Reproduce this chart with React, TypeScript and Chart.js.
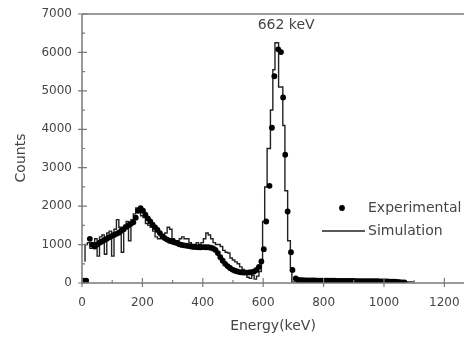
import React, { useEffect, useRef } from "react";
import { Chart, registerables } from "chart.js";

Chart.register(...registerables);

// Experimental spectrum (keV, counts)
const expEnergy = [
  5, 14, 26, 34, 42, 50, 58, 66, 74, 82, 90, 98, 106, 114, 122, 130, 138, 146, 154, 162,
  170, 178, 186, 194, 202, 210, 218, 226, 234, 242, 250, 258, 266, 274, 282, 290, 298, 306, 314, 322,
  330, 338, 346, 354, 362, 370, 378, 386, 394, 402, 410, 418, 426, 434, 442, 450, 458, 466, 474, 482,
  490, 498, 506, 514, 522, 530, 538, 546, 554, 562, 570, 578, 586, 594, 602, 610, 621, 629, 637, 650,
  659, 666, 673, 681, 692, 697, 708, 716, 724, 732, 740, 748, 756, 764, 772, 780, 788, 796, 804, 812,
  820, 828, 836, 844, 852, 860, 868, 876, 884, 892, 900, 908, 916, 924, 932, 940, 948, 956, 964, 972,
  980, 988, 996, 1004, 1012, 1020, 1028, 1036, 1044, 1052, 1060, 1068,
];
const expCounts = [
  60, 60, 1150, 1000, 950, 1000, 1050, 1080, 1120, 1150, 1190, 1220, 1250, 1280, 1310, 1360, 1400, 1460, 1500, 1540,
  1580, 1700, 1880, 1950, 1880, 1780, 1680, 1600, 1520, 1450, 1380, 1300, 1220, 1170, 1130, 1100, 1080, 1060, 1040, 1010,
  990, 980, 970, 960, 950, 940, 935, 930, 930, 935, 930, 930, 920, 900, 860, 780, 670, 580, 500, 440,
  390, 350, 320, 300, 285, 275, 270, 270, 275, 285, 300, 340, 420, 560, 880, 1600, 2530, 4040, 5380, 6080,
  6010, 4830, 3340, 1860, 800, 340, 120, 80, 75, 72, 70, 70, 68, 66, 65, 64, 63, 62, 62, 60,
  60, 58, 58, 57, 56, 55, 55, 54, 53, 52, 52, 51, 50, 50, 49, 48, 48, 47, 46, 46,
  45, 44, 44, 42, 40, 38, 36, 34, 30, 20, 15, 15,
];

// Simulated spectrum (bin start keV, counts), drawn as a histogram
const simEnergy = [
  10, 18, 26, 34, 42, 50, 58, 66, 74, 82, 90, 98, 106, 114, 122, 130, 138, 146, 154, 162,
  170, 178, 186, 194, 202, 210, 218, 226, 234, 242, 250, 258, 266, 274, 282, 290, 298, 306, 314, 322,
  330, 338, 346, 354, 362, 370, 378, 386, 394, 402, 410, 418, 426, 434, 442, 450, 458, 466, 474, 482,
  490, 498, 506, 514, 522, 530, 538, 546, 554, 562, 570, 578, 586, 594, 598, 605, 613, 624, 632, 639,
  651, 665, 672, 681, 690, 695, 705, 1100,
];
const simCounts = [
  550, 1000, 1050, 900, 1000, 1150, 700, 1200, 1250, 750, 1300, 1350, 700, 1400, 1650, 1450, 800, 1500, 1600, 1100,
  1650, 1800, 1950, 1900, 1750, 1700, 1550, 1500, 1450, 1350, 1200, 1150, 1150, 1200, 1300, 1450, 1400, 1150, 1100, 1100,
  1150, 1200, 1150, 1150, 1050, 1000, 1000, 1050, 1000, 1050, 1150, 1300, 1250, 1150, 1050, 1000, 1000, 950, 850, 800,
  780, 650, 600, 550, 500, 420, 350, 250, 150, 120, 200, 100, 180, 300, 600, 1600, 2500, 3500, 4500, 5550,
  6250, 5100, 4100, 2400, 1100, 400, 30, 30,
];

const xTickValues = [0, 100, 200, 300, 400, 500, 600, 700, 800, 900, 1000, 1100, 1200];
const yTickValues = [0, 500, 1000, 1500, 2000, 2500, 3000, 3500, 4000, 4500, 5000, 5500, 6000, 6500, 7000];

const peakLabel = "662 keV";
const peakLabelEnergy = 676;
const peakLabelCounts = 6700;

const FONT = "'DejaVu Sans', sans-serif";
const AXIS_COLOR = "#7a7a7a";
const TEXT_COLOR = "#454545";

const decorPlugin = {
  id: "decor",
  afterDraw(chart: any) {
    const { ctx, chartArea, scales } = chart;
    const { left, right, top, bottom } = chartArea;
    const xs = scales.x;
    const ys = scales.y;
    ctx.save();
    ctx.strokeStyle = AXIS_COLOR;
    ctx.lineWidth = 1.5;
    // frame: left, bottom, top
    ctx.beginPath();
    ctx.moveTo(left, top);
    ctx.lineTo(right, top);
    ctx.moveTo(left, top);
    ctx.lineTo(left, bottom);
    ctx.lineTo(right, bottom);
    ctx.stroke();
    // tick marks
    ctx.lineWidth = 1.2;
    ctx.beginPath();
    xTickValues.forEach((v) => {
      const px = xs.getPixelForValue(v);
      const major = v % 200 === 0;
      ctx.moveTo(px, bottom + (major ? 4 : 0));
      ctx.lineTo(px, bottom - (major ? 5 : 3));
    });
    yTickValues.forEach((v) => {
      const py = ys.getPixelForValue(v);
      const major = v % 1000 === 0;
      ctx.moveTo(left - (major ? 4 : 0), py);
      ctx.lineTo(left + (major ? 5 : 3), py);
    });
    ctx.stroke();

    // axis titles
    ctx.fillStyle = TEXT_COLOR;
    ctx.font = `14px ${FONT}`;
    ctx.textAlign = "center";
    ctx.textBaseline = "middle";
    ctx.fillText("Energy(keV)", (left + right) / 2, 326);
    ctx.save();
    ctx.translate(21, 158);
    ctx.rotate(-Math.PI / 2);
    ctx.fillText("Counts", 0, 0);
    ctx.restore();

    // peak annotation
    ctx.fillText(peakLabel, xs.getPixelForValue(peakLabelEnergy), ys.getPixelForValue(peakLabelCounts));

    // legend
    ctx.fillStyle = "#000";
    ctx.beginPath();
    ctx.arc(342, 208, 2.9, 0, Math.PI * 2);
    ctx.fill();
    ctx.strokeStyle = "#222";
    ctx.lineWidth = 1.5;
    ctx.beginPath();
    ctx.moveTo(322, 231);
    ctx.lineTo(365, 231);
    ctx.stroke();
    ctx.fillStyle = TEXT_COLOR;
    ctx.textAlign = "left";
    ctx.fillText("Experimental", 368, 208);
    ctx.fillText("Simulation", 368, 231);
    ctx.restore();
  },
};

export default function App() {
  const canvasRef = useRef<HTMLCanvasElement | null>(null);

  useEffect(() => {
    document.body.style.margin = "0";
    const canvas = canvasRef.current;
    if (!canvas) return;
    const expData = expEnergy.map((x, i) => ({ x, y: expCounts[i] }));
    const simData = simEnergy.map((x, i) => ({ x, y: simCounts[i] }));
    const chart = new Chart(canvas, {
      type: "scatter",
      data: {
        datasets: [
          {
            label: "Experimental",
            data: expData,
            showLine: false,
            pointRadius: 2.9,
            pointBackgroundColor: "#000",
            pointBorderColor: "#000",
            pointBorderWidth: 0,
          },
          {
            label: "Simulation",
            data: simData,
            showLine: true,
            stepped: "after",
            borderColor: "#222",
            borderWidth: 1.4,
            pointRadius: 0,
            fill: false,
          },
        ],
      },
      options: {
        animation: false,
        responsive: false,
        maintainAspectRatio: false,
        layout: { padding: { top: 14, right: 0, left: 0, bottom: 0 } },
        plugins: {
          legend: { display: false },
          tooltip: { enabled: false },
        },
        scales: {
          x: {
            type: "linear",
            min: 0,
            max: 1265,
            grid: { display: false, drawTicks: false },
            border: { display: false },
            afterBuildTicks: (scale: any) => {
              scale.ticks = xTickValues.map((v) => ({ value: v }));
            },
            afterFit: (scale: any) => {
              scale.height = 55;
              scale.paddingLeft = 0;
              scale.paddingRight = 0;
            },
            ticks: {
              padding: 13,
              maxRotation: 0,
              autoSkip: false,
              color: TEXT_COLOR,
              font: { family: FONT, size: 12 },
              callback: (v: any) => (Number(v) % 200 === 0 ? String(v) : ""),
            },
          },
          y: {
            type: "linear",
            min: 0,
            max: 7000,
            grid: { display: false, drawTicks: false },
            border: { display: false },
            afterBuildTicks: (scale: any) => {
              scale.ticks = yTickValues.map((v) => ({ value: v }));
            },
            afterFit: (scale: any) => {
              scale.width = 82;
              scale.paddingTop = 0;
              scale.paddingBottom = 0;
            },
            ticks: {
              padding: 10,
              autoSkip: false,
              color: TEXT_COLOR,
              font: { family: FONT, size: 12 },
              callback: (v: any) => (Number(v) % 1000 === 0 ? String(v) : ""),
            },
          },
        },
      },
      plugins: [decorPlugin],
    });
    return () => chart.destroy();
  }, []);

  return (
    <div style={{ position: "absolute", left: 0, top: 0, width: 468, height: 338, background: "#fff" }}>
      <canvas ref={canvasRef} width={468} height={338} style={{ width: 468, height: 338 }} />
    </div>
  );
}
